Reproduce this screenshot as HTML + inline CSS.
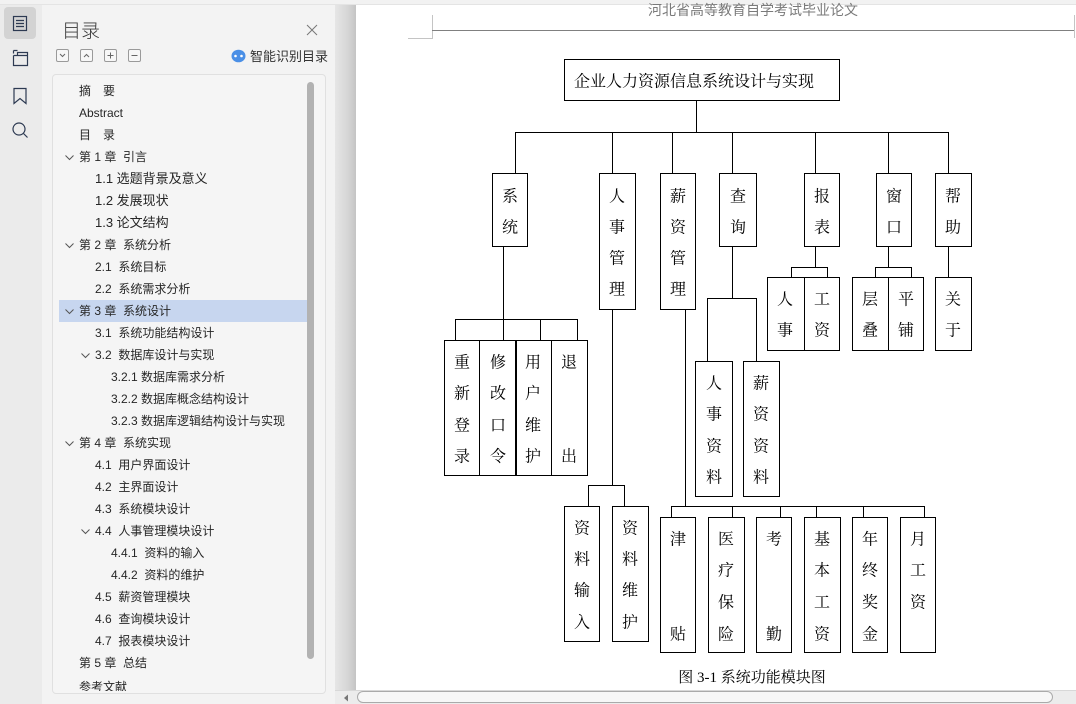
<!DOCTYPE html>
<html><head><meta charset="utf-8">
<style>
*{margin:0;padding:0;box-sizing:border-box}
html,body{width:1076px;height:704px;overflow:hidden;background:#fff;position:relative;font-family:"Liberation Sans","Noto Sans CJK SC",sans-serif}
.abs{position:absolute}
#rail{left:0;top:0;width:42px;height:704px;background:#ebebeb}
#panel{left:42px;top:0;width:293px;height:704px;background:#f3f3f3}
#shadow{left:335px;top:0;width:21px;height:704px;background:linear-gradient(to right,#e6e6e6,#d6d6d6 60%,#c4c4c4)}
#topband{left:0;top:0;width:1076px;height:5px;background:#f2f2f2;border-bottom:1px solid #e4e4e4}
.title{left:62px;top:17px;font-size:19px;color:#3a3a3a;line-height:26px;font-family:"Noto Sans CJK SC",sans-serif;font-weight:300}
.btn{top:49px;width:13px;height:13px;border:1px solid #9a9a9a;border-radius:2px;background:#f7f7f7}
#list{left:52px;top:74px;width:274px;height:620px;border:1px solid #e0e0e0;border-radius:4px;background:#f5f5f5;overflow:hidden}
#inner{position:absolute;left:0;top:0;width:272px;height:616px;overflow:hidden}
.it{position:absolute;font-size:12px;color:#262626;line-height:22px;height:22px;white-space:pre;font-family:"Liberation Sans","Noto Sans CJK SC",sans-serif}
.hl{position:absolute;left:6px;width:248px;height:22px;background:#c7d6ef}
.chev{position:absolute;width:9px;height:6px}
#sb{left:307px;top:82px;width:7px;height:577px;background:#b2b2b2;border-radius:4px}
#hscroll{left:335px;top:690px;width:741px;height:14px;background:#ececec;border-top:1px solid #d8d8d8}
#thumb{left:357px;top:691px;width:696px;height:12px;background:#f7f7f7;border:1px solid #aaa;border-radius:7px}
.hdr{left:648px;top:1px;font-size:14px;color:#7a7a7a;line-height:18px;white-space:nowrap;font-family:"Liberation Sans","Noto Sans CJK SC",sans-serif}
</style></head>
<body>
<div id="rail" class="abs"></div>
<div id="panel" class="abs"></div>
<div id="shadow" class="abs"></div>

<svg class="abs" style="left:0;top:0" width="42" height="150" viewBox="0 0 42 150">
<rect x="4" y="7" width="32" height="32" rx="4" fill="#d3d3d3"/>
<g fill="none" stroke="#2d3a52" stroke-width="1.2">
<rect x="13.5" y="16.5" width="13" height="14"/>
<path d="M16 20.5h8M16 23.5h8M16 26.5h8"/>
<path d="M13.5 50.5h4M13.5 50.5v3M13.5 55.5v10h14v-10h-14M17.5 55.5v-3h10v3"/>
<path d="M14 88.5h12v15l-6-5l-6 5z"/>
<circle cx="19" cy="129" r="6"/>
<path d="M23.5 133.5l4 4"/>
</g>
</svg>

<div class="abs title">目录</div>
<svg class="abs" style="left:305px;top:23px" width="14" height="14"><path d="M2 2L12 12M12 2L2 12" stroke="#777" stroke-width="1"/></svg>

<div class="abs btn" style="left:56px"></div>
<div class="abs btn" style="left:80px"></div>
<div class="abs btn" style="left:104px"></div>
<div class="abs btn" style="left:128px"></div>
<svg class="abs" style="left:56px;top:49px" width="90" height="13">
<g fill="none" stroke="#666" stroke-width="1">
<path d="M4 5l2.5 2.5L9 5"/>
<path d="M28 8l2.5-2.5L33 8"/>
<path d="M54.5 3.5v6M51.5 6.5h6"/>
<path d="M75.5 6.5h6"/>
</g></svg>
<svg class="abs" style="left:231px;top:49px" width="15" height="14"><ellipse cx="7.5" cy="7" rx="7" ry="6.3" fill="#4a8fe6"/><circle cx="4.5" cy="7" r="1.3" fill="#fff"/><circle cx="10.5" cy="7" r="1.3" fill="#fff"/></svg>
<div class="abs" style="left:250px;top:47px;font-size:13px;line-height:18px;color:#333;font-family:'Noto Sans CJK SC',sans-serif">智能识别目录</div>

<div id="list" class="abs"><div id="inner">
<div class="hl" style="top:225px"></div>
<div class="it" style="left:26px;top:5px">摘　要</div>
<div class="it" style="left:26px;top:27px">Abstract</div>
<div class="it" style="left:26px;top:49px">目　录</div>
<div class="it" style="left:26px;top:71px">第 1 章  引言</div>
<div class="it" style="left:42px;top:93px;font-size:13px">1.1 选题背景及意义</div>
<div class="it" style="left:42px;top:115px;font-size:13px">1.2 发展现状</div>
<div class="it" style="left:42px;top:137px;font-size:13px">1.3 论文结构</div>
<div class="it" style="left:26px;top:159px">第 2 章  系统分析</div>
<div class="it" style="left:42px;top:181px">2.1  系统目标</div>
<div class="it" style="left:42px;top:203px">2.2  系统需求分析</div>
<div class="it" style="left:26px;top:225px">第 3 章  系统设计</div>
<div class="it" style="left:42px;top:247px">3.1  系统功能结构设计</div>
<div class="it" style="left:42px;top:269px">3.2  数据库设计与实现</div>
<div class="it" style="left:58px;top:291px">3.2.1 数据库需求分析</div>
<div class="it" style="left:58px;top:313px">3.2.2 数据库概念结构设计</div>
<div class="it" style="left:58px;top:335px">3.2.3 数据库逻辑结构设计与实现</div>
<div class="it" style="left:26px;top:357px">第 4 章  系统实现</div>
<div class="it" style="left:42px;top:379px">4.1  用户界面设计</div>
<div class="it" style="left:42px;top:401px">4.2  主界面设计</div>
<div class="it" style="left:42px;top:423px">4.3  系统模块设计</div>
<div class="it" style="left:42px;top:445px">4.4  人事管理模块设计</div>
<div class="it" style="left:58px;top:467px">4.4.1  资料的输入</div>
<div class="it" style="left:58px;top:489px">4.4.2  资料的维护</div>
<div class="it" style="left:42px;top:511px">4.5  薪资管理模块</div>
<div class="it" style="left:42px;top:533px">4.6  查询模块设计</div>
<div class="it" style="left:42px;top:555px">4.7  报表模块设计</div>
<div class="it" style="left:26px;top:577px">第 5 章  总结</div>
<div class="it" style="left:26px;top:601px">参考文献</div>
<svg class="chev" style="left:12px;top:80px" viewBox="0 0 9 6"><path d="M0.5 0.5l4 4l4-4" fill="none" stroke="#555"/></svg>
<svg class="chev" style="left:12px;top:168px" viewBox="0 0 9 6"><path d="M0.5 0.5l4 4l4-4" fill="none" stroke="#555"/></svg>
<svg class="chev" style="left:12px;top:234px" viewBox="0 0 9 6"><path d="M0.5 0.5l4 4l4-4" fill="none" stroke="#555"/></svg>
<svg class="chev" style="left:28px;top:278px" viewBox="0 0 9 6"><path d="M0.5 0.5l4 4l4-4" fill="none" stroke="#555"/></svg>
<svg class="chev" style="left:12px;top:366px" viewBox="0 0 9 6"><path d="M0.5 0.5l4 4l4-4" fill="none" stroke="#555"/></svg>
<svg class="chev" style="left:28px;top:454px" viewBox="0 0 9 6"><path d="M0.5 0.5l4 4l4-4" fill="none" stroke="#555"/></svg>
</div></div>
<div id="sb" class="abs"></div>

<div id="topband" class="abs"></div>
<div class="abs hdr">河北省高等教育自学考试毕业论文</div>

<svg class="abs" style="left:0;top:0" width="1076" height="704" viewBox="0 0 1076 704">
<g stroke="#c4c4c4" stroke-width="1" fill="none" shape-rendering="crispEdges">
<path d="M432.5 15V38.5H408"/>
<path d="M1074.5 15V38"/>
</g>
<path d="M432 30.5H1074" stroke="#808080" stroke-width="1" shape-rendering="crispEdges"/>
<g stroke="#000" stroke-width="1" fill="none" shape-rendering="crispEdges">
<path d="M696.5 101V132.5M515 132.5H949M515.5 132V173M612.5 132V173M672.5 132V173M732.5 132V173M815.5 132V173M888.5 132V173M948.5 132V173
M503.5 246V319M455 319.5H578M455.5 319V340M503.5 319V340M540.5 319V340M577.5 319V340
M612.5 309V485M588 485.5H625M588.5 485V506M624.5 485V506
M685.5 309V506M671 506.5H925M671.5 506V517M732.5 506V517M780.5 506V517M816.5 506V517M863.5 506V517M924.5 506V517
M732.5 246V298M707 298.5H757M707.5 298V361M756.5 298V361
M815.5 246V267M791 267.5H828M791.5 267V277M827.5 267V277
M888.5 246V267M875 267.5H912M875.5 267V277M911.5 267V277
M948.5 246V277"/>
<rect x="564.5" y="59.5" width="275" height="41"/>
<rect x="492.5" y="173.5" width="35" height="73"/>
<rect x="599.5" y="173.5" width="36" height="136"/>
<rect x="660.5" y="173.5" width="35" height="136"/>
<rect x="719.5" y="173.5" width="37" height="73"/>
<rect x="804.5" y="173.5" width="35" height="73"/>
<rect x="876.5" y="173.5" width="35" height="73"/>
<rect x="935.5" y="173.5" width="36" height="73"/>
<rect x="444.5" y="340.5" width="143" height="135"/>
<path d="M479.5 340V476M551.5 340V476"/>
<path d="M516 340V476" stroke-width="2"/>
<rect x="767.5" y="277.5" width="72" height="73"/>
<path d="M804.5 277V351"/>
<rect x="852.5" y="277.5" width="71" height="73"/>
<path d="M888.5 277V351"/>
<rect x="935.5" y="277.5" width="36" height="73"/>
<rect x="564.5" y="506.5" width="35" height="135"/>
<rect x="612.5" y="506.5" width="36" height="135"/>
<rect x="695.5" y="361.5" width="37" height="135"/>
<rect x="743.5" y="361.5" width="36" height="135"/>
<rect x="660.5" y="517.5" width="35" height="135"/>
<rect x="708.5" y="517.5" width="36" height="135"/>
<rect x="756.5" y="517.5" width="35" height="135"/>
<rect x="804.5" y="517.5" width="36" height="135"/>
<rect x="852.5" y="517.5" width="35" height="135"/>
<rect x="900.5" y="517.5" width="35" height="135"/>
</g>
<g font-family="'Noto Serif CJK SC','Noto Sans CJK SC',serif" font-size="16" fill="#000" text-anchor="middle" dominant-baseline="central">
<text x="574" y="80" text-anchor="start">企业人力资源信息系统设计与实现</text>
<text x="510" y="195">系</text><text x="510" y="226">统</text>
<text x="617" y="195">人</text><text x="617" y="226">事</text><text x="617" y="257">管</text><text x="617" y="288">理</text>
<text x="678" y="195">薪</text><text x="678" y="226">资</text><text x="678" y="257">管</text><text x="678" y="288">理</text>
<text x="738" y="195">查</text><text x="738" y="226">询</text>
<text x="822" y="195">报</text><text x="822" y="226">表</text>
<text x="894" y="195">窗</text><text x="894" y="226">口</text>
<text x="953" y="195">帮</text><text x="953" y="226">助</text>
<text x="462" y="361">重</text><text x="462" y="392">新</text><text x="462" y="424">登</text><text x="462" y="455">录</text>
<text x="498" y="361">修</text><text x="498" y="392">改</text><text x="498" y="424">口</text><text x="498" y="455">令</text>
<text x="533" y="361">用</text><text x="533" y="392">户</text><text x="533" y="424">维</text><text x="533" y="455">护</text>
<text x="569" y="361">退</text><text x="569" y="455">出</text>
<text x="785" y="298">人</text><text x="785" y="329">事</text>
<text x="822" y="298">工</text><text x="822" y="329">资</text>
<text x="870" y="298">层</text><text x="870" y="329">叠</text>
<text x="906" y="298">平</text><text x="906" y="329">铺</text>
<text x="953" y="298">关</text><text x="953" y="329">于</text>
<text x="582" y="527">资</text><text x="582" y="558">料</text><text x="582" y="589">输</text><text x="582" y="621">入</text>
<text x="630" y="527">资</text><text x="630" y="558">料</text><text x="630" y="589">维</text><text x="630" y="621">护</text>
<text x="714" y="382">人</text><text x="714" y="413">事</text><text x="714" y="445">资</text><text x="714" y="476">料</text>
<text x="761" y="382">薪</text><text x="761" y="413">资</text><text x="761" y="445">资</text><text x="761" y="476">料</text>
<text x="678" y="538">津</text><text x="678" y="633">贴</text>
<text x="726" y="538">医</text><text x="726" y="569">疗</text><text x="726" y="601">保</text><text x="726" y="633">险</text>
<text x="774" y="538">考</text><text x="774" y="633">勤</text>
<text x="822" y="538">基</text><text x="822" y="569">本</text><text x="822" y="601">工</text><text x="822" y="633">资</text>
<text x="870" y="538">年</text><text x="870" y="569">终</text><text x="870" y="601">奖</text><text x="870" y="633">金</text>
<text x="918" y="538">月</text><text x="918" y="569">工</text><text x="918" y="601">资</text>
</g>
<text x="752" y="678" font-size="15" text-anchor="middle" dominant-baseline="central" font-family="'Liberation Serif','Noto Serif CJK SC',serif" fill="#000">图 3-1  系统功能模块图</text>
</svg>

<div id="hscroll" class="abs"></div>
<svg class="abs" style="left:343px;top:694px" width="6" height="8"><path d="M5 0.5v7L1 4z" fill="#777"/></svg>
<div id="thumb" class="abs"></div>
</body></html>
